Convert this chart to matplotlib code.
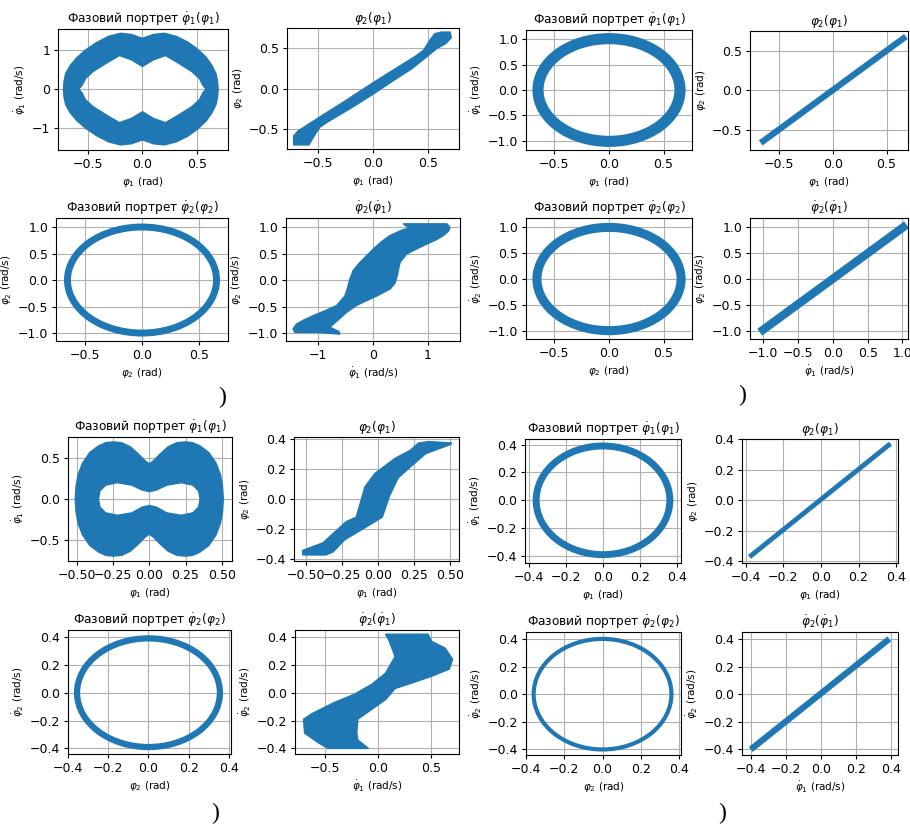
import matplotlib
matplotlib.use("Agg")
import matplotlib.pyplot as plt
from matplotlib.patches import Ellipse, PathPatch
from matplotlib.path import Path

BLUE = "#1f77b4"

# ---------------- data ----------------
# Group 1 (top-left)
g1a_outer_x = [0.69, 0.685, 0.67, 0.63, 0.58, 0.50, 0.41, 0.31, 0.20, 0.10, 0.00, -0.10, -0.20, -0.31, -0.42, -0.52, -0.60, -0.66, -0.70, -0.715,
               -0.72, -0.715, -0.70, -0.66, -0.60, -0.52, -0.42, -0.31, -0.20, -0.10, 0.00, 0.10, 0.20, 0.31, 0.41, 0.50, 0.58, 0.63, 0.67, 0.685]
g1a_outer_y = [0.00, 0.20, 0.40, 0.62, 0.82, 1.03, 1.21, 1.35, 1.43, 1.40, 1.30, 1.40, 1.43, 1.35, 1.19, 1.00, 0.80, 0.60, 0.40, 0.20,
               0.00, -0.20, -0.40, -0.60, -0.80, -1.00, -1.19, -1.35, -1.43, -1.40, -1.30, -1.40, -1.43, -1.35, -1.21, -1.03, -0.82, -0.62, -0.40, -0.20]
g1a_inner_x = [0.58, 0.55, 0.52, 0.45, 0.32, 0.21, 0.10, 0.00, -0.10, -0.21, -0.32, -0.45, -0.52, -0.55,
               -0.58, -0.55, -0.52, -0.45, -0.32, -0.21, -0.10, 0.00, 0.10, 0.21, 0.32, 0.45, 0.52, 0.55]
g1a_inner_y = [0.00, -0.10, -0.27, -0.45, -0.68, -0.86, -0.75, -0.58, -0.75, -0.86, -0.68, -0.45, -0.27, -0.10,
               0.00, 0.10, 0.27, 0.45, 0.68, 0.86, 0.75, 0.58, 0.75, 0.86, 0.68, 0.45, 0.27, 0.10]

g1b_x = [-0.72, -0.68, -0.60, -0.45, -0.25, 0.00, 0.20, 0.38, 0.46, 0.52, 0.56, 0.62, 0.70, 0.71,
         0.66, 0.58, 0.48, 0.35, 0.20, 0.00, -0.20, -0.40, -0.48, -0.52, -0.56, -0.58, -0.72]
g1b_y = [-0.58, -0.52, -0.45, -0.32, -0.15, 0.07, 0.24, 0.39, 0.47, 0.60, 0.67, 0.69, 0.69, 0.62,
         0.55, 0.49, 0.38, 0.24, 0.11, -0.07, -0.24, -0.40, -0.47, -0.55, -0.64, -0.69, -0.69]

g1c_semi = [0.65, 1.00]

g1d_x = [-1.45, -1.42, -1.00, -0.60, -0.62, -0.78, -0.62, -0.48, -0.30, -0.18, 0.07, 0.31, 0.40, 0.44, 0.49, 0.61, 0.80, 0.98, 1.15, 1.28, 1.37, 1.40,
         1.34, 0.85, 0.55, 0.60, 0.67, 0.50, 0.31, 0.15, 0.00, -0.24, -0.36, -0.42, -0.46, -0.51, -0.66, -0.85, -1.08, -1.25, -1.39]
g1d_y = [-0.92, -0.99, -0.99, -1.02, -0.97, -0.89, -0.74, -0.61, -0.48, -0.42, -0.30, -0.17, -0.06, 0.08, 0.33, 0.49, 0.59, 0.68, 0.76, 0.84, 0.92, 0.99,
         1.06, 1.06, 1.06, 1.02, 0.99, 0.93, 0.84, 0.72, 0.58, 0.33, 0.18, 0.02, -0.14, -0.30, -0.48, -0.57, -0.67, -0.75, -0.83]

# Group 2 (top-right)
g2a_semi = [0.65, 1.01]
g2b_x = [-0.67, 0.68]
g2b_y = [-0.67, 0.68]
g2c_semi = [0.66, 0.99]
g2d_x = [-1.05, 1.06]
g2d_y = [-1.02, 1.04]

# Group 3 (bottom-left)
g3a_outer_x = [0.51, 0.505, 0.49, 0.46, 0.41, 0.35, 0.30, 0.25, 0.19, 0.13, 0.08, 0.03, 0.00, -0.03, -0.08, -0.13, -0.19, -0.25, -0.30, -0.35, -0.41, -0.46, -0.49, -0.505,
               -0.51, -0.505, -0.49, -0.46, -0.41, -0.35, -0.30, -0.25, -0.19, -0.13, -0.08, -0.03, 0.00, 0.03, 0.08, 0.13, 0.19, 0.25, 0.30, 0.35, 0.41, 0.46, 0.49, 0.505]
g3a_outer_y = [0.00, 0.15, 0.30, 0.44, 0.57, 0.65, 0.69, 0.70, 0.69, 0.64, 0.56, 0.47, 0.43, 0.47, 0.56, 0.64, 0.69, 0.70, 0.69, 0.65, 0.57, 0.44, 0.30, 0.15,
               0.00, -0.15, -0.30, -0.44, -0.57, -0.65, -0.69, -0.70, -0.69, -0.64, -0.56, -0.47, -0.43, -0.47, -0.56, -0.64, -0.69, -0.70, -0.69, -0.65, -0.57, -0.44, -0.30, -0.15]
g3a_inner_x = [0.35, 0.34, 0.30, 0.22, 0.12, 0.05, 0.00, -0.05, -0.12, -0.22, -0.30, -0.34,
               -0.35, -0.34, -0.30, -0.22, -0.12, -0.05, 0.00, 0.05, 0.12, 0.22, 0.30, 0.34]
g3a_inner_y = [0.00, -0.10, -0.17, -0.20, -0.17, -0.10, -0.08, -0.10, -0.17, -0.20, -0.17, -0.10,
               0.00, 0.10, 0.17, 0.20, 0.17, 0.11, 0.09, 0.11, 0.17, 0.20, 0.17, 0.10]

g3b_x = [-0.52, -0.52, -0.36, -0.31, -0.23, -0.09, 0.03, 0.08, 0.14, 0.21, 0.33, 0.50, 0.51,
         0.35, 0.28, 0.22, 0.12, -0.02, -0.09, -0.15, -0.22, -0.30, -0.38]
g3b_y = [-0.34, -0.37, -0.37, -0.35, -0.27, -0.19, -0.12, 0.02, 0.14, 0.20, 0.30, 0.36, 0.37,
         0.38, 0.37, 0.32, 0.27, 0.17, 0.08, -0.12, -0.15, -0.22, -0.29]

g3c_semi = [0.355, 0.39]

g3d_x = [0.07, 0.47, 0.50, 0.63, 0.70, 0.67, 0.51, 0.32, 0.16, 0.07, -0.19, -0.20, -0.19, -0.09,
         -0.47, -0.56, -0.69, -0.70, -0.62, -0.41, -0.22, -0.06, 0.07, 0.16, 0.10]
g3d_y = [0.42, 0.42, 0.37, 0.32, 0.24, 0.17, 0.12, 0.07, 0.03, -0.05, -0.19, -0.29, -0.34, -0.40,
         -0.40, -0.36, -0.29, -0.19, -0.15, -0.07, -0.01, 0.06, 0.14, 0.26, 0.38]

# Group 4 (bottom-right)
g4a_semi = [0.36, 0.39]
g4b_x = [-0.38, 0.37]
g4b_y = [-0.37, 0.37]
g4c_semi = [0.36, 0.40]
g4d_x = [-0.40, 0.39]
g4d_y = [-0.40, 0.40]

# ---------------- texts ----------------
T_P1 = "Фазовий портрет $\\dot{\\varphi}_1(\\varphi_1)$"
T_21 = "$\\varphi_2(\\varphi_1)$"
T_P2 = "Фазовий портрет $\\dot{\\varphi}_2(\\varphi_2)$"
T_D21 = "$\\dot{\\varphi}_2(\\dot{\\varphi}_1)$"
L_P1 = "$\\varphi_1$ (rad)"
L_P2 = "$\\varphi_2$ (rad)"
L_D1 = "$\\dot{\\varphi}_1$ (rad/s)"
L_D2 = "$\\dot{\\varphi}_2$ (rad/s)"
L_P2Y = "$\\varphi_2$ (rad)"

W, H = 910, 826
fig = plt.figure(figsize=(W / 100, H / 100), dpi=100)


def make_ax(box, xlim, ylim, xticks, yticks, title, xlabel, ylabel):
    l, t, r, b = box
    ax = fig.add_axes([l / W, 1 - b / H, (r - l) / W, (b - t) / H])
    ax.set_xlim(*xlim)
    ax.set_ylim(*ylim)
    ax.set_xticks(xticks)
    ax.set_yticks(yticks)
    ax.grid(True, color="#b0b0b0", lw=0.8)
    ax.set_axisbelow(True)
    ax.tick_params(labelsize=9, length=3, pad=2.5, width=0.8)
    ax.set_title(title, fontsize=8.7, pad=4)
    ax.set_xlabel(xlabel, fontsize=7.5, labelpad=3)
    ax.set_ylabel(ylabel, fontsize=7.5, labelpad=3)
    for s in ax.spines.values():
        s.set_linewidth(0.8)
    return ax


def ring_shape(ax, ox, oy, ix, iy):
    verts = list(zip(ox, oy)) + [(ox[0], oy[0])] + list(zip(ix, iy)) + [(ix[0], iy[0])]
    codes = ([Path.MOVETO] + [Path.LINETO] * (len(ox) - 1) + [Path.CLOSEPOLY] +
             [Path.MOVETO] + [Path.LINETO] * (len(ix) - 1) + [Path.CLOSEPOLY])
    ax.add_patch(PathPatch(Path(verts, codes), facecolor=BLUE, edgecolor=BLUE, lw=1, zorder=2))


def band(ax, x, y):
    ax.fill(x, y, color=BLUE, lw=1, zorder=2)


def ellipse(ax, semi, lw):
    ax.add_patch(Ellipse((0, 0), 2 * semi[0], 2 * semi[1], fill=False, edgecolor=BLUE, lw=lw, zorder=2))


def line(ax, x, y, lw):
    ax.plot(x, y, color=BLUE, lw=lw, solid_capstyle="butt", zorder=2)


t05 = [-0.5, 0.0, 0.5]
t1 = [-1, 0, 1]
t10 = [-1.0, -0.5, 0.0, 0.5, 1.0]
t04 = [-0.4, -0.2, 0.0, 0.2, 0.4]
t025 = [-0.5, -0.25, 0.0, 0.25, 0.5]

# Group 1
ax = make_ax((58, 29, 228, 150), (-0.77, 0.78), (-1.56, 1.54), t05, t1, T_P1, L_P1, L_D1)
ring_shape(ax, g1a_outer_x, g1a_outer_y, g1a_inner_x, g1a_inner_y)
ax = make_ax((287, 28, 459, 149), (-0.78, 0.78), (-0.74, 0.74), t05, t05, T_21, L_P1, L_P2Y)
band(ax, g1b_x, g1b_y)
ax = make_ax((56, 218, 228, 341), (-0.75, 0.75), (-1.15, 1.17), t05, t10, T_P2, L_P2, L_D2)
ellipse(ax, g1c_semi, 5)
ax = make_ax((286, 218, 460, 341), (-1.58, 1.58), (-1.15, 1.17), t1, t10, T_D21, L_D1, L_D2)
band(ax, g1d_x, g1d_y)

# Group 2
ax = make_ax((526, 30, 692, 150), (-0.76, 0.76), (-1.18, 1.18), t05, t10, T_P1, L_P1, L_D1)
ellipse(ax, g2a_semi, 8)
ax = make_ax((750, 31, 908, 150), (-0.77, 0.70), (-0.76, 0.75), t05, t05, T_21, L_P1, L_P2Y)
line(ax, g2b_x, g2b_y, 4.5)
ax = make_ax((526, 218, 692, 339), (-0.76, 0.76), (-1.15, 1.17), t05, t10, T_P2, L_P2, L_D2)
ellipse(ax, g2c_semi, 6.5)
ax = make_ax((750, 218, 908, 339), (-1.19, 1.08), (-1.15, 1.17), t10, t10, T_D21, L_D1, L_D2)
line(ax, g2d_x, g2d_y, 6)

# Group 3
ax = make_ax((68, 437, 232, 561), (-0.56, 0.57), (-0.76, 0.76), t025, t05, T_P1, L_P1, L_D1)
ring_shape(ax, g3a_outer_x, g3a_outer_y, g3a_inner_x, g3a_inner_y)
ax = make_ax((294, 437, 459, 561), (-0.58, 0.56), (-0.41, 0.41), t025, t04, T_21, L_P1, L_P2Y)
band(ax, g3b_x, g3b_y)
ax = make_ax((68, 630, 231, 754), (-0.40, 0.41), (-0.44, 0.45), t04, t04, T_P2, L_P2, L_D2)
ellipse(ax, g3c_semi, 4.5)
ax = make_ax((295, 630, 459, 754), (-0.78, 0.76), (-0.44, 0.45), t05, t04, T_D21, L_D1, L_D2)
band(ax, g3d_x, g3d_y)

# Group 4
ax = make_ax((525, 439, 681, 563), (-0.42, 0.42), (-0.45, 0.44), t04, t04, T_P1, L_P1, L_D1)
ellipse(ax, g4a_semi, 5)
ax = make_ax((742, 439, 898, 563), (-0.42, 0.41), (-0.41, 0.40), t04, t04, T_21, L_P1, L_P2Y)
line(ax, g4b_x, g4b_y, 3.5)
ax = make_ax((526, 632, 681, 755), (-0.40, 0.41), (-0.44, 0.45), t04, t04, T_P2, L_P2, L_D2)
ellipse(ax, g4c_semi, 3)
ax = make_ax((742, 632, 898, 755), (-0.45, 0.44), (-0.44, 0.45), t04, t04, T_D21, L_D1, L_D2)
line(ax, g4d_x, g4d_y, 4.5)

# caption brackets
for (px, py) in [(222, 397), (742, 395), (215, 813), (722, 813)]:
    fig.text(px / W, 1 - py / H, ")", fontsize=17, family="Liberation Serif", ha="center", va="center")

fig.savefig("out.png", dpi=100)
